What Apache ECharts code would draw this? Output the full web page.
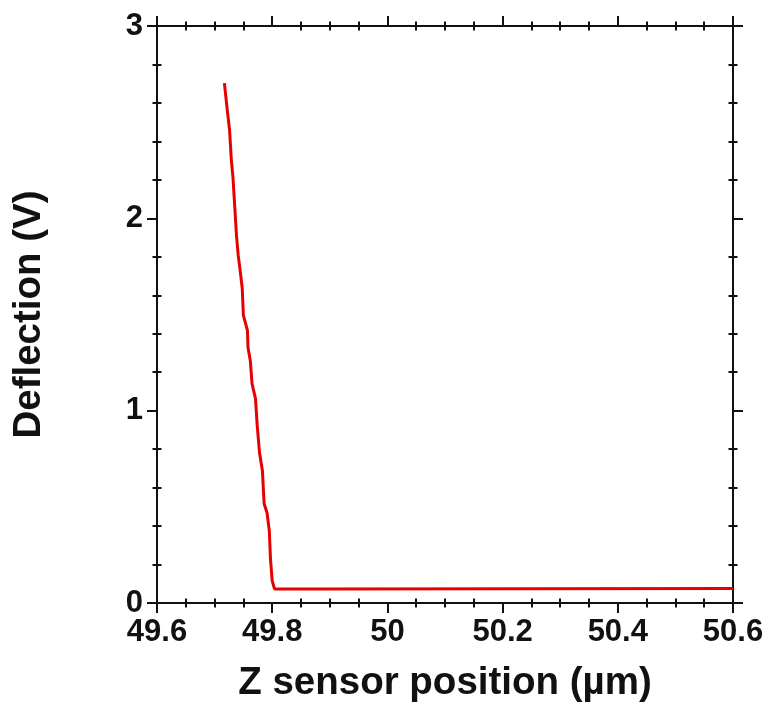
<!DOCTYPE html>
<html>
<head>
<meta charset="utf-8">
<script src="https://cdn.jsdelivr.net/npm/echarts@6/dist/echarts.min.js"></script>
<style>
  html, body { margin: 0; padding: 0; background: #fff; }
  #chart { width: 768px; height: 708px; }
</style>
</head>
<body>
<div id="chart"></div>
<script>
// Force curve: cantilever deflection against Z sensor position
const zPosition = [
  49.717, 49.720, 49.722, 49.726, 49.729, 49.732, 49.734, 49.738, 49.741,
  49.745, 49.748, 49.750, 49.757, 49.758, 49.762, 49.765, 49.771, 49.774,
  49.778, 49.783, 49.786, 49.791, 49.795, 49.797, 49.800, 49.804, 49.875,
  49.878, 49.882, 50.600
];
const deflection = [
  2.703, 2.698, 2.563, 2.458, 2.307, 2.208, 2.109, 1.911, 1.807,
  1.714, 1.635, 1.495, 1.417, 1.328, 1.260, 1.141, 1.063, 0.922,
  0.781, 0.688, 0.516, 0.469, 0.375, 0.229, 0.115, 0.073, 0.073,
  0.063, 0.073, 0.075
];
const xTicks = { min: 49.6, max: 50.6, step: 0.2, minorSplits: 4 };
const yTicks = { min: 0, max: 3, step: 1, minorSplits: 5 };
const xTitle = 'Z sensor position (µm)';
const yTitle = 'Deflection (V)';

const FONT = '"Liberation Sans", Arial, Helvetica, sans-serif';
const INK = '#111';
const lineStyle = { color: INK, width: 2 };

// One axis draws the outward ticks (and the line), a twin on the same side
// draws the inward half of the minor ticks so they cross the frame.
function frameAxis(base, position, withLabels, name) {
  const outer = Object.assign({}, base, {
    position,
    axisLine: { show: true, onZero: false, lineStyle },
    axisTick: { show: true, inside: false, length: 10, lineStyle },
    minorTick: { show: true, length: 4.5, lineStyle },
    splitLine: { show: false },
    minorSplitLine: { show: false },
    axisLabel: { show: false }
  });
  const inner = Object.assign({}, base, {
    position,
    axisLine: { show: false, onZero: false },
    axisTick: { show: false, inside: true },
    minorTick: { show: true, length: 4.5, lineStyle },
    splitLine: { show: false },
    minorSplitLine: { show: false },
    axisLabel: { show: false }
  });
  if (withLabels) {
    outer.axisLabel = withLabels;
    Object.assign(outer, name);
  }
  return [outer, inner];
}

const xBase = {
  type: 'value', min: xTicks.min, max: xTicks.max, interval: xTicks.step
};
const yBase = {
  type: 'value', min: yTicks.min, max: yTicks.max, interval: yTicks.step
};

const labelFont = { fontFamily: FONT, fontWeight: 'bold', fontSize: 31, color: INK };
const nameFont = { fontFamily: FONT, fontWeight: 'bold', fontSize: 38.5, color: INK };

const xAxes = [].concat(
  frameAxis(xBase, 'bottom',
    Object.assign({ show: true, margin: 14, showMinLabel: true, showMaxLabel: true,
      formatter: v => String(+v.toFixed(1)) }, labelFont),
    { name: xTitle, nameLocation: 'middle', nameGap: 61, nameTextStyle: nameFont }),
  frameAxis(xBase, 'top', null)
);
const yAxes = [].concat(
  frameAxis(yBase, 'left',
    Object.assign({ show: true, margin: 14, padding: [0, 0, 10, 0],
      showMinLabel: true, showMaxLabel: true }, labelFont),
    { name: yTitle, nameLocation: 'middle', nameGap: 108, nameTextStyle: nameFont }),
  frameAxis(yBase, 'right', null)
);
xAxes.forEach(a => { a.minorTick = Object.assign({ splitNumber: xTicks.minorSplits }, a.minorTick); });
yAxes.forEach(a => { a.minorTick = Object.assign({ splitNumber: yTicks.minorSplits }, a.minorTick); });

const chart = echarts.init(document.getElementById('chart'), null, { renderer: 'canvas' });
chart.setOption({
  animation: false,
  backgroundColor: '#fff',
  grid: { left: 157, right: 35, top: 26, bottom: 105, containLabel: false, outerBoundsMode: 'none' },
  xAxis: xAxes,
  yAxis: yAxes,
  series: [{
    type: 'line',
    xAxisIndex: 0,
    yAxisIndex: 0,
    showSymbol: false,
    symbol: 'none',
    smooth: false,
    lineStyle: { color: '#e60000', width: 3 },
    data: zPosition.map((z, i) => [z, deflection[i]])
  }]
});
</script>
</body>
</html>
